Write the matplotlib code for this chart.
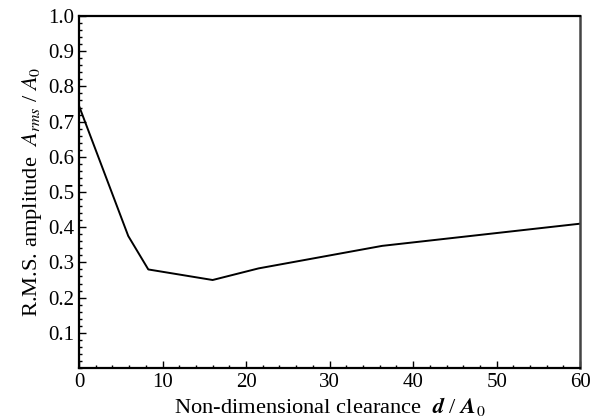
import numpy as np
import matplotlib.pyplot as plt
from matplotlib.ticker import MultipleLocator, FixedLocator

# clearance d/A0 vs. RMS amplitude Arms/A0
clearance = [0.0, 5.9, 8.3, 16.0, 21.5, 36.3, 60.0]
amplitude = [0.745, 0.375, 0.280, 0.250, 0.283, 0.347, 0.410]

xticks = [0, 10, 20, 30, 40, 50, 60]
yticks = [0.1, 0.2, 0.3, 0.4, 0.5, 0.6, 0.7, 0.8, 0.9, 1.0]

plt.rcParams['font.family'] = ['Liberation Serif', 'DejaVu Serif']
plt.rcParams['mathtext.fontset'] = 'stix'

fig = plt.figure(figsize=(5.92, 4.17), dpi=100)
ax = fig.add_axes([0.1334, 0.1175, 0.8466, 0.8441])

ax.plot(clearance, amplitude, c='black', lw=1.4)

ax.set_xlim(0, 60)
ax.set_ylim(0, 1.0)
ax.xaxis.set_major_locator(FixedLocator(xticks))
ax.yaxis.set_major_locator(FixedLocator(yticks))
ax.xaxis.set_minor_locator(MultipleLocator(2))
ax.yaxis.set_minor_locator(MultipleLocator(0.02))
ax.set_yticklabels(['%.1f' % v for v in yticks])

ax.tick_params(which='both', direction='in', top=False, right=False,
               labelsize=15, width=1.0)
ax.tick_params(which='major', length=5)
ax.tick_params(which='minor', length=2.5)
for side in ['left', 'bottom', 'top']:
    ax.spines[side].set_linewidth(1.6)
ax.spines['right'].set_linewidth(1.8)
ax.spines['right'].set_color('#444444')

ax.set_xlabel(r'Non-dimensional clearance  $\boldsymbol{d}$ / $\boldsymbol{A}_0$',
              fontsize=16.2, labelpad=2)
ax.set_ylabel(r'R.M.S. amplitude  $A_{rms}$ / $A_0$', fontsize=16.2, labelpad=3)

fig.savefig('out.png', dpi=100)
